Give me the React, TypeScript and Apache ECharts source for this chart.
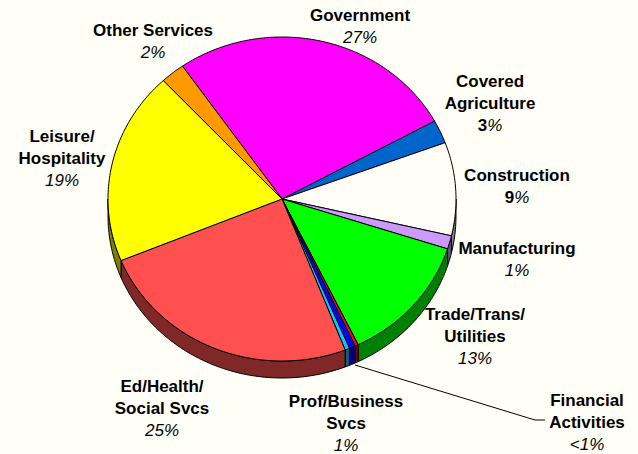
import React, { useEffect, useRef } from "react";
import * as echarts from "echarts";

const categories = ["Government", "Covered Agriculture", "Construction", "Manufacturing", "Trade/Trans/Utilities", "Financial Activities", "Information", "Prof/Business Svcs", "Ed/Health/Social Svcs", "Leisure/Hospitality", "Other Services"];
const values = [26.7, 2.33, 9.3, 1.33, 12.8, 0.3, 0.58, 0.42, 24.7, 19.25, 2.25];
const topColors = ["#FF00FF", "#0066CC", "#FFFFF8", "#CC99FF", "#00FF00", "#FF0000", "#0000FF", "#00CCFF", "#FF5050", "#FFFF00", "#FF9900"];
const sideColors = ["#800080", "#003366", "#80807C", "#665080", "#008000", "#800000", "#000080", "#006680", "#802828", "#808000", "#804D00"];

const labelTexts = [
  "{b|Government}\n{i|27%}",
  "{b|Other Services}\n{i|2%}",
  "{b|Covered}\n{b|Agriculture}\n{b|3}{i|%}",
  "{b|Construction}\n{b|9}{i|%}",
  "{b|Manufacturing}\n{i|1%}",
  "{b|Trade/Trans/}\n{b|Utilities}\n{i|13%}",
  "{b|Financial}\n{b|Activities}\n{i|<1%}",
  "{b|Prof/Business}\n{b|Svcs}\n{i|1%}",
  "{b|Ed/Health/}\n{b|Social Svcs}\n{i|25%}",
  "{b|Leisure/}\n{b|Hospitality}\n{i|19%}",
];
const labelAnchors = [
  [360, 4], [153, 19], [490, 70], [517, 164], [517, 237], [475, 303], [587, 389], [346, 390], [162, 375], [62, 125],
];

const CX = 282, CY = 199, RX = 174, RY = 162, DEPTH = 17, START = 325.1;
const total = values.reduce((a, b) => a + b, 0);
const rim = (deg: number, dy = 0) => {
  const t = (deg * Math.PI) / 180;
  return [CX + RX * Math.sin(t), CY - RY * Math.cos(t) + dy];
};
const arc = (a: number, b: number, dy = 0) => {
  const pts: number[][] = [];
  const n = Math.max(2, Math.ceil(b - a));
  for (let i = 0; i <= n; i++) pts.push(rim(a + ((b - a) * i) / n, dy));
  return pts;
};

const renderItem = (_p: any, api: any) => {
  const i = api.value(1);
  let before = 0;
  for (let k = 0; k < i; k++) before += values[k];
  const a = START + (before / total) * 360;
  const b = a + (api.value(0) / total) * 360;
  const children: any[] = [];
  for (const off of [0, 360]) {
    const lo = Math.max(a, 90 + off), hi = Math.min(b, 270 + off);
    if (hi > lo) {
      children.push({
        type: "polygon",
        shape: { points: [...arc(lo, hi), ...arc(lo, hi, DEPTH).reverse()] },
        style: { fill: sideColors[i], stroke: "#000", lineWidth: 1 },
      });
    }
  }
  children.push({
    type: "polygon",
    shape: { points: [[CX, CY], ...arc(a, b)] },
    style: { fill: topColors[i], stroke: "#000", lineWidth: 1 },
  });
  return { type: "group", children };
};

export default function App() {
  const ref = useRef<HTMLDivElement>(null);
  useEffect(() => {
    const chart = echarts.init(ref.current!, undefined, { renderer: "svg" });
    chart.setOption({
      animation: false,
      backgroundColor: "#FFFFF8",
      series: [
        {
          type: "custom",
          coordinateSystem: "none",
          renderItem,
          clip: false,
          silent: true,
          data: values.map((v, i) => ({ name: categories[i], value: [v, i] })),
        },
      ],
      graphic: [
        {
          type: "polyline",
          shape: { points: [[355, 365], [535, 420], [545, 420]] },
          style: { stroke: "#000", lineWidth: 1, fill: "none" },
          z: 10,
        },
        ...labelTexts.map((text, i) => ({
          type: "text",
          x: labelAnchors[i][0],
          y: labelAnchors[i][1],
          z: 20,
          style: {
            text,
            align: "center",
            verticalAlign: "top",
            fill: "#000",
            rich: {
              b: { font: 'bold 17px "Liberation Sans"', lineHeight: 22.3, fill: "#000", align: "center" },
              i: { font: 'italic 17px "Liberation Sans"', lineHeight: 22.3, fill: "#000", align: "center" },
            },
          },
        })),
      ],
    });
    return () => chart.dispose();
  }, []);
  return <div ref={ref} style={{ position: "absolute", left: 0, top: 0, width: 638, height: 454 }} />;
}
